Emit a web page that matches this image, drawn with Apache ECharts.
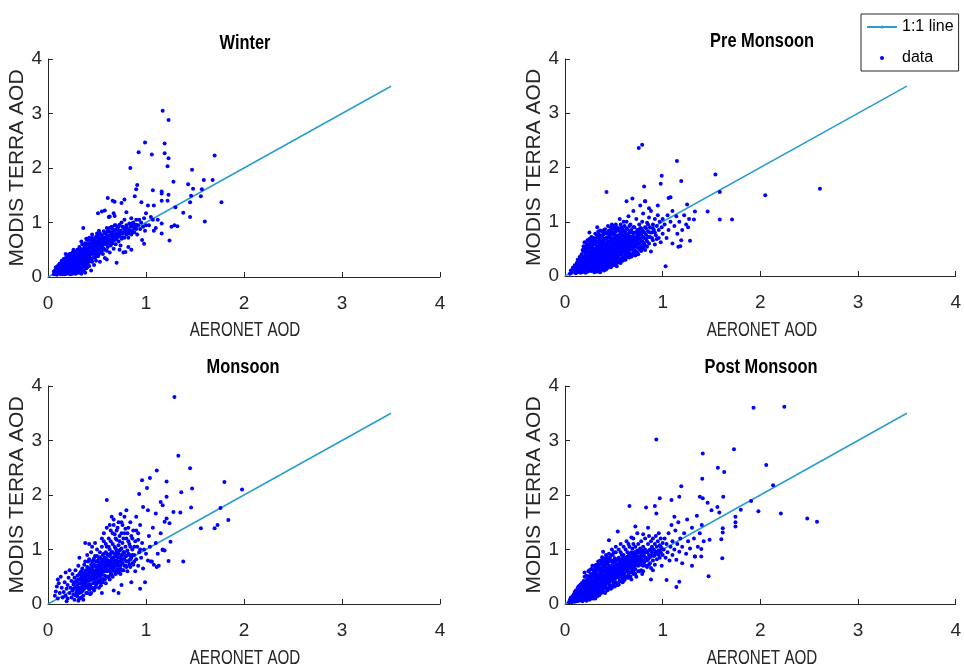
<!DOCTYPE html>
<html>
<head>
<meta charset="utf-8">
<script src="https://cdn.jsdelivr.net/npm/echarts@6/dist/echarts.min.js"></script>
<style>
html,body{margin:0;padding:0;background:#fff;}
#chart{width:964px;height:671px;}
</style>
</head>
<body>
<div id="chart"></div>
<script>
// ---- data ----
var seasons = ['Winter', 'Pre Monsoon', 'Monsoon', 'Post Monsoon'];
var xAxisLabel = 'AERONET AOD';
var yAxisLabel = 'MODIS TERRA AOD';
var axisTicks = [0, 1, 2, 3, 4];
var oneToOne = [[0, 0], [3.5, 3.5]];

var winterOuter = [
[0.06,0.05],[0.07,0.12],[0.08,0.08],[0.09,0.15],[0.1,0.06],[0.1,0.2],[0.08,0.18],[0.06,0.1],
[0.11,0.1],[0.12,0.16],[0.12,0.25],[0.13,0.05],[0.13,0.12],[0.14,0.2],[0.14,0.3],[0.15,0.08],[0.15,0.15],[0.11,0.22],[0.12,0.07],[0.14,0.11],
[0.16,0.12],[0.16,0.22],[0.17,0.05],[0.17,0.18],[0.17,0.3],[0.18,0.1],[0.18,0.25],[0.18,0.35],[0.19,0.15],[0.19,0.2],[0.2,0.08],[0.2,0.28],[0.2,0.4],[0.16,0.33],[0.19,0.06],[0.2,0.17],
[0.21,0.12],[0.21,0.22],[0.21,0.33],[0.22,0.06],[0.22,0.18],[0.22,0.27],[0.22,0.42],[0.23,0.1],[0.23,0.15],[0.23,0.24],[0.23,0.36],[0.24,0.2],[0.24,0.3],[0.24,0.08],[0.25,0.14],[0.25,0.26],[0.25,0.38],[0.25,0.45],
[0.26,0.1],[0.26,0.2],[0.26,0.32],[0.27,0.16],[0.27,0.24],[0.27,0.4],[0.28,0.06],[0.28,0.28],[0.28,0.35],[0.29,0.12],[0.29,0.22],[0.29,0.44],[0.3,0.18],[0.3,0.3],[0.3,0.38],[0.3,0.5],[0.27,0.47],[0.28,0.14],
[0.31,0.1],[0.31,0.25],[0.31,0.42],[0.32,0.2],[0.32,0.33],[0.32,0.55],[0.33,0.15],[0.33,0.28],[0.33,0.46],[0.34,0.06],[0.34,0.22],[0.34,0.38],[0.35,0.3],[0.35,0.5],[0.35,0.6],[0.32,0.08],[0.34,0.65],
[0.36,0.12],[0.36,0.26],[0.36,0.42],[0.37,0.2],[0.37,0.35],[0.37,0.55],[0.38,0.3],[0.38,0.47],[0.38,0.62],[0.39,0.16],[0.39,0.4],[0.39,0.7],[0.4,0.25],[0.4,0.52],[0.4,0.36],[0.38,0.08],
[0.41,0.3],[0.41,0.45],[0.41,0.6],[0.42,0.2],[0.42,0.38],[0.42,0.72],[0.43,0.5],[0.43,0.33],[0.44,0.42],[0.44,0.62],[0.44,0.12],[0.45,0.55],[0.45,0.28],[0.45,0.78],
[0.46,0.35],[0.46,0.48],[0.47,0.6],[0.47,0.22],[0.48,0.42],[0.48,0.7],[0.49,0.55],[0.49,0.3],[0.5,0.48],[0.5,0.65],[0.5,0.8],
[0.51,0.38],[0.51,0.58],[0.52,0.7],[0.52,0.5],[0.53,0.28],[0.53,0.62],[0.54,0.45],[0.54,0.78],[0.55,0.55],[0.55,0.68],[0.52,0.85],[0.55,1.2],
[0.56,0.42],[0.56,0.62],[0.57,0.72],[0.57,0.52],[0.58,0.35],[0.58,0.8],[0.59,0.6],[0.59,0.68],[0.6,0.48],[0.6,0.75],[0.6,0.9],
[0.61,0.55],[0.61,0.7],[0.62,0.62],[0.62,0.85],[0.63,0.45],[0.63,0.76],[0.64,0.58],[0.64,0.68],[0.65,0.8],[0.65,0.92],[0.62,1.1],
[0.66,0.62],[0.66,0.74],[0.67,0.52],[0.67,0.85],[0.68,0.68],[0.68,0.95],[0.69,0.6],[0.69,0.78],[0.7,0.7],[0.7,0.88],[0.68,1.12],
[0.71,0.8],[0.72,0.65],[0.72,0.92],[0.73,0.75],[0.74,0.58],[0.74,0.85],[0.75,0.7],[0.75,1.0],[0.76,0.8],[0.77,0.9],[0.78,0.72],[0.78,1.05],[0.79,0.85],[0.8,0.78],[0.8,0.95],[0.73,0.5],[0.77,0.45],
[0.81,0.88],[0.82,0.72],[0.83,0.98],[0.84,0.85],[0.85,0.78],[0.86,0.92],[0.87,1.0],[0.88,0.82],[0.89,0.95],[0.9,0.88],[0.82,0.55],[0.85,1.08],[0.9,1.05],
[0.91,0.78],[0.92,0.95],[0.93,1.05],[0.94,0.88],[0.95,1.0],[0.96,0.68],[0.97,0.92],[0.98,1.08],[0.99,0.85],[1.0,0.95],
[1.03,0.95],[1.05,1.1],[1.1,0.9],[1.12,1.05],[1.08,0.85],
[1.17,3.05],[1.23,2.88],[0.99,2.47],[1.19,2.45],[0.925,2.29],[1.06,2.25],[1.19,2.27],[1.23,2.18],[1.70,2.23],[1.22,2.03],[0.84,2.0],[1.47,1.97],
[0.91,1.69],[0.9,1.61],[1.07,1.59],[1.16,1.57],[1.16,1.53],[1.28,1.75],[1.23,1.51],[1.43,1.7],[1.48,1.62],[1.59,1.78],[1.68,1.78],[1.57,1.61],
[1.56,1.48],[1.77,1.37],[1.46,1.49],[1.45,1.37],[1.16,1.40],[1.22,1.40],[1.08,1.31],[1.30,1.28],[1.38,1.18],[1.45,1.10],[1.60,1.02],[1.24,0.67],
[1.32,0.93],[1.29,0.95],[1.26,0.92],[1.16,0.98],[1.16,0.80],[1.07,1.05],[1.02,1.31],[1.0,1.17],[0.953,1.37],[0.885,1.48],[0.78,1.42],[0.75,1.36],
[0.61,1.45],[0.66,1.40],[0.68,1.38],[0.80,1.19],[0.67,1.17],[0.58,1.22],[0.51,1.17],[0.63,1.11],[0.36,0.90],[0.98,0.61],[0.85,0.50],[0.79,0.46],[0.70,0.26],[0.60,0.32]
];
var winterCore = [
[0.09,0.04],[0.11,0.14],[0.12,0.19],[0.13,0.09],[0.13,0.22],[0.14,0.16],[0.15,0.05],[0.15,0.24],[0.16,0.09],[0.16,0.27],[0.17,0.15],[0.17,0.24],[0.18,0.14],[0.18,0.2],[0.18,0.42],[0.19,0.1],[0.19,0.31],[0.2,0.13],[0.2,0.23],[0.2,0.34],
[0.21,0.07],[0.21,0.17],[0.21,0.28],[0.21,0.38],[0.22,0.13],[0.22,0.22],[0.22,0.32],[0.23,0.05],[0.23,0.2],[0.23,0.29],[0.23,0.42],[0.24,0.12],[0.24,0.25],[0.24,0.35],[0.25,0.06],[0.25,0.19],[0.25,0.31],
[0.26,0.15],[0.26,0.25],[0.26,0.38],[0.26,0.5],[0.27,0.11],[0.27,0.2],[0.27,0.33],[0.28,0.18],[0.28,0.23],[0.28,0.42],[0.29,0.07],[0.29,0.17],[0.29,0.3],[0.29,0.37],[0.3,0.12],[0.3,0.24],[0.3,0.43],
[0.31,0.18],[0.31,0.32],[0.31,0.5],[0.32,0.14],[0.32,0.26],[0.32,0.4],[0.33,0.22],[0.33,0.34],[0.33,0.52],[0.34,0.17],[0.34,0.3],[0.34,0.44],[0.35,0.12],[0.35,0.24],[0.35,0.37],
[0.36,0.19],[0.36,0.32],[0.36,0.5],[0.37,0.1],[0.37,0.27],[0.37,0.44],[0.38,0.22],[0.38,0.38],[0.38,0.55],[0.39,0.3],[0.39,0.48],[0.4,0.18],[0.4,0.43],[0.4,0.6],
[0.41,0.38],[0.41,0.52],[0.42,0.28],[0.42,0.48],[0.42,0.62],[0.43,0.42],[0.43,0.58],[0.44,0.34],[0.44,0.5],[0.45,0.46],[0.45,0.65],[0.46,0.42],[0.46,0.58],[0.47,0.5],[0.47,0.68],[0.48,0.36],[0.48,0.58],[0.49,0.46],[0.49,0.64],[0.5,0.56],[0.5,0.4],
[0.51,0.5],[0.51,0.66],[0.52,0.42],[0.52,0.6],[0.53,0.52],[0.53,0.7],[0.54,0.58],[0.55,0.48],[0.55,0.62],[0.56,0.52],[0.56,0.72],[0.57,0.6],[0.58,0.66],[0.58,0.5],[0.59,0.72],[0.6,0.62],
[0.61,0.76],[0.62,0.68],[0.63,0.62],[0.64,0.75],[0.65,0.66],[0.66,0.8],[0.67,0.7],[0.68,0.76],[0.69,0.7],[0.7,0.8],[0.72,0.75],[0.74,0.8],[0.76,0.72],[0.78,0.82],[0.8,0.86],[0.82,0.8],[0.84,0.92],[0.86,0.84],[0.88,0.9],[0.9,0.96]
];
var winterFill = [
[0.4,0.68],[0.42,0.55],[0.43,0.68],[0.44,0.56],[0.45,0.72],[0.46,0.64],[0.47,0.55],[0.48,0.66],[0.49,0.74],[0.5,0.6],[0.51,0.75],[0.52,0.66],[0.53,0.8],[0.54,0.68],[0.55,0.76],[0.56,0.66],[0.57,0.84],[0.58,0.72],[0.59,0.8],[0.6,0.68],
[0.61,0.84],[0.62,0.76],[0.63,0.9],[0.64,0.82],[0.65,0.74],[0.66,0.88],[0.67,0.78],[0.68,0.86],[0.69,0.95],[0.7,0.76],[0.71,0.9],[0.72,0.84],[0.73,0.96],[0.75,0.82],[0.76,0.92],[0.78,0.88],[0.8,0.9],[0.83,0.86],[0.86,0.98],
[0.07,0.07],[0.1,0.16],[0.13,0.18],[0.15,0.19],[0.17,0.1],[0.19,0.24],[0.21,0.26],[0.23,0.33],[0.25,0.23],[0.27,0.29],[0.29,0.26],[0.31,0.36],[0.33,0.4],[0.35,0.44],[0.37,0.48],[0.39,0.54]
];

var preMonsoonOuter = [
[0.05,0.04],[0.06,0.1],[0.07,0.06],[0.08,0.15],[0.09,0.09],[0.1,0.2],[0.1,0.12],
[0.11,0.05],[0.11,0.16],[0.12,0.1],[0.12,0.24],[0.13,0.14],[0.13,0.3],[0.14,0.08],[0.14,0.2],[0.15,0.12],[0.15,0.27],[0.15,0.35],
[0.16,0.06],[0.16,0.18],[0.16,0.3],[0.17,0.12],[0.17,0.24],[0.17,0.4],[0.18,0.08],[0.18,0.2],[0.18,0.33],[0.19,0.14],[0.19,0.27],[0.19,0.45],[0.2,0.1],[0.2,0.22],[0.2,0.36],[0.2,0.52],
[0.21,0.06],[0.21,0.16],[0.21,0.28],[0.21,0.42],[0.22,0.11],[0.22,0.22],[0.22,0.34],[0.22,0.6],[0.23,0.08],[0.23,0.18],[0.23,0.3],[0.23,0.46],[0.24,0.13],[0.24,0.25],[0.24,0.38],[0.24,0.52],[0.25,0.1],[0.25,0.2],[0.25,0.32],[0.25,0.44],[0.25,0.8],
[0.26,0.14],[0.26,0.26],[0.26,0.36],[0.26,0.56],[0.27,0.09],[0.27,0.2],[0.27,0.3],[0.27,0.42],[0.28,0.16],[0.28,0.24],[0.28,0.34],[0.28,0.48],[0.28,0.66],[0.29,0.12],[0.29,0.28],[0.29,0.4],[0.3,0.18],[0.3,0.22],[0.3,0.32],[0.3,0.45],[0.3,0.58],
[0.31,0.1],[0.31,0.24],[0.31,0.36],[0.31,0.5],[0.32,0.15],[0.32,0.28],[0.32,0.42],[0.32,0.62],[0.33,0.2],[0.33,0.33],[0.33,0.46],[0.33,0.75],[0.34,0.12],[0.34,0.26],[0.34,0.38],[0.34,0.54],[0.35,0.18],[0.35,0.3],[0.35,0.42],[0.35,0.66],[0.33,0.9],
[0.36,0.22],[0.36,0.35],[0.36,0.48],[0.36,0.6],[0.37,0.14],[0.37,0.28],[0.37,0.4],[0.37,0.55],[0.38,0.2],[0.38,0.32],[0.38,0.45],[0.38,0.72],[0.39,0.26],[0.39,0.38],[0.39,0.5],[0.39,0.64],[0.4,0.16],[0.4,0.3],[0.4,0.42],[0.4,0.58],[0.4,0.85],
[0.41,0.24],[0.41,0.36],[0.41,0.5],[0.41,0.68],[0.42,0.2],[0.42,0.32],[0.42,0.45],[0.42,0.6],[0.43,0.28],[0.43,0.4],[0.43,0.55],[0.43,0.78],[0.44,0.22],[0.44,0.34],[0.44,0.48],[0.44,0.64],[0.45,0.3],[0.45,0.42],[0.45,0.56],[0.45,0.72],
[0.46,0.26],[0.46,0.38],[0.46,0.5],[0.46,0.62],[0.47,0.33],[0.47,0.45],[0.47,0.58],[0.47,0.9],[0.48,0.22],[0.48,0.4],[0.48,0.52],[0.48,0.68],[0.49,0.3],[0.49,0.44],[0.49,0.6],[0.49,0.8],[0.5,0.36],[0.5,0.48],[0.5,0.55],[0.5,0.7],
[0.51,0.28],[0.51,0.42],[0.51,0.6],[0.51,0.76],[0.52,0.35],[0.52,0.5],[0.52,0.66],[0.52,0.95],[0.53,0.3],[0.53,0.45],[0.53,0.58],[0.53,0.72],[0.54,0.38],[0.54,0.52],[0.54,0.64],[0.54,0.84],[0.55,0.25],[0.55,0.44],[0.55,0.6],[0.55,0.75],
[0.56,0.4],[0.56,0.54],[0.56,0.68],[0.56,1.05],[0.57,0.32],[0.57,0.48],[0.57,0.62],[0.57,0.8],[0.58,0.42],[0.58,0.56],[0.58,0.7],[0.58,0.9],[0.59,0.36],[0.59,0.5],[0.59,0.64],[0.6,0.45],[0.6,0.58],[0.6,0.74],[0.6,1.0],[0.6,0.3],
[0.61,0.52],[0.61,0.66],[0.61,0.82],[0.62,0.4],[0.62,0.6],[0.62,0.72],[0.63,0.48],[0.63,0.56],[0.63,0.88],[0.64,0.35],[0.64,0.62],[0.64,0.76],[0.65,0.5],[0.65,0.68],[0.65,1.1],
[0.66,0.42],[0.66,0.58],[0.66,0.8],[0.67,0.64],[0.67,0.72],[0.67,0.95],[0.68,0.5],[0.68,0.62],[0.68,0.85],[0.69,0.38],[0.69,0.7],[0.7,0.55],[0.7,0.66],[0.7,0.78],[0.7,1.2],
[0.71,0.48],[0.71,0.62],[0.71,0.9],[0.72,0.7],[0.72,0.58],[0.72,0.45],[0.73,0.8],[0.73,0.65],[0.73,1.05],[0.74,0.52],[0.74,0.74],[0.75,0.6],[0.75,0.85],[0.75,0.4],
[0.76,0.7],[0.76,0.95],[0.77,0.55],[0.77,0.78],[0.78,0.64],[0.78,0.88],[0.79,0.5],[0.79,0.72],[0.8,0.82],[0.8,0.62],[0.8,1.15],[0.77,1.3],[0.79,1.0],
[0.81,0.7],[0.82,0.56],[0.82,0.9],[0.83,0.76],[0.84,0.64],[0.84,0.98],[0.85,0.82],[0.86,0.6],[0.86,1.08],[0.87,0.72],[0.87,0.9],[0.88,0.45],[0.88,1.2],[0.89,0.8],[0.9,0.66],[0.9,0.95],[0.82,1.38],[0.86,1.25],
[0.91,0.85],[0.92,1.05],[0.92,0.58],[0.93,0.75],[0.94,0.92],[0.95,1.12],[0.96,0.7],[0.96,0.85],[0.97,1.0],[0.98,0.62],[0.99,0.9],[1.0,1.05],[1.0,0.78],[0.95,1.3],
[1.02,0.95],[1.04,0.7],[1.05,1.12],[1.06,0.85],[1.08,1.0],[1.1,0.6],[1.12,0.92],[1.14,1.1],[1.15,0.78],[1.17,1.0],[1.2,0.85],[1.22,1.12],[1.24,0.95],[1.1,1.2],[1.18,0.55],[1.27,1.05],
[0.755,2.36],[0.79,2.42],[1.146,2.12],[1.54,1.87],[0.99,1.85],[1.19,1.75],[0.98,1.7],[0.81,1.65],[0.425,1.55],[1.585,1.55],[1.08,1.45],[1.06,1.44],
[0.63,1.38],[0.69,1.43],[0.82,1.38],[1.25,1.32],[1.33,1.19],[1.46,1.19],[1.585,1.04],[1.71,1.04],[1.32,1.04],[1.26,0.9],[1.28,0.65],[1.03,0.18],
[1.19,0.66],[1.16,0.54],[2.61,1.61],[2.05,1.49]
];
var preMonsoonCore = [
[0.12,0.18],[0.13,0.07],[0.14,0.25],[0.15,0.16],[0.16,0.11],[0.16,0.24],[0.17,0.08],[0.17,0.19],[0.17,0.32],[0.18,0.14],[0.18,0.26],[0.19,0.08],[0.19,0.2],[0.19,0.35],[0.2,0.16],[0.2,0.3],
[0.21,0.1],[0.21,0.22],[0.21,0.35],[0.22,0.16],[0.22,0.28],[0.22,0.42],[0.23,0.13],[0.23,0.24],[0.23,0.38],[0.24,0.1],[0.24,0.19],[0.24,0.31],[0.24,0.44],[0.25,0.15],[0.25,0.26],[0.25,0.38],
[0.26,0.1],[0.26,0.2],[0.26,0.31],[0.26,0.45],[0.27,0.14],[0.27,0.25],[0.27,0.36],[0.27,0.5],[0.28,0.11],[0.28,0.2],[0.28,0.29],[0.28,0.4],[0.29,0.17],[0.29,0.23],[0.29,0.34],[0.29,0.5],[0.3,0.13],[0.3,0.27],[0.3,0.4],
[0.31,0.18],[0.31,0.3],[0.31,0.42],[0.31,0.6],[0.32,0.22],[0.32,0.35],[0.32,0.5],[0.33,0.14],[0.33,0.26],[0.33,0.4],[0.33,0.55],[0.34,0.2],[0.34,0.32],[0.34,0.46],[0.35,0.24],[0.35,0.36],[0.35,0.5],
[0.36,0.16],[0.36,0.28],[0.36,0.42],[0.36,0.54],[0.37,0.22],[0.37,0.34],[0.37,0.47],[0.37,0.65],[0.38,0.26],[0.38,0.38],[0.38,0.58],[0.39,0.2],[0.39,0.32],[0.39,0.44],[0.39,0.56],[0.4,0.24],[0.4,0.36],[0.4,0.5],[0.4,0.68],
[0.41,0.3],[0.41,0.42],[0.41,0.58],[0.42,0.26],[0.42,0.38],[0.42,0.52],[0.42,0.7],[0.43,0.34],[0.43,0.46],[0.43,0.62],[0.44,0.28],[0.44,0.4],[0.44,0.54],[0.45,0.24],[0.45,0.36],[0.45,0.5],[0.45,0.64],
[0.46,0.32],[0.46,0.44],[0.46,0.56],[0.46,0.72],[0.47,0.28],[0.47,0.4],[0.47,0.52],[0.47,0.66],[0.48,0.34],[0.48,0.46],[0.48,0.6],[0.49,0.38],[0.49,0.5],[0.49,0.68],[0.5,0.3],[0.5,0.42],[0.5,0.62],
[0.51,0.36],[0.51,0.5],[0.51,0.68],[0.52,0.44],[0.52,0.58],[0.52,0.74],[0.53,0.38],[0.53,0.52],[0.53,0.65],[0.54,0.32],[0.54,0.46],[0.54,0.58],[0.54,0.72],[0.55,0.38],[0.55,0.52],[0.55,0.68],
[0.56,0.46],[0.56,0.6],[0.56,0.76],[0.57,0.4],[0.57,0.55],[0.57,0.7],[0.58,0.48],[0.58,0.63],[0.58,0.78],[0.59,0.44],[0.59,0.57],[0.59,0.72],[0.6,0.52],[0.6,0.66],[0.6,0.82],
[0.61,0.45],[0.61,0.6],[0.61,0.74],[0.62,0.5],[0.62,0.66],[0.62,0.8],[0.63,0.42],[0.63,0.63],[0.63,0.76],[0.64,0.54],[0.64,0.7],[0.64,0.86],[0.65,0.45],[0.65,0.6],[0.65,0.76],
[0.66,0.5],[0.66,0.66],[0.66,0.72],[0.67,0.56],[0.67,0.82],[0.68,0.56],[0.68,0.72],[0.69,0.6],[0.69,0.8],[0.69,0.48],[0.7,0.6],[0.7,0.72],[0.7,0.9],
[0.71,0.55],[0.71,0.7],[0.72,0.64],[0.72,0.8],[0.73,0.58],[0.73,0.72],[0.74,0.62],[0.74,0.85],[0.75,0.68],[0.75,0.76],[0.76,0.6],[0.76,0.8],[0.77,0.68],[0.77,0.88],[0.78,0.56],[0.78,0.76],[0.79,0.64],[0.79,0.84],[0.8,0.72],
[0.81,0.8],[0.81,0.6],[0.83,0.68],[0.83,0.88],[0.85,0.72],[0.85,0.95],[0.87,0.8],[0.89,0.7],[0.9,0.88],[0.92,0.8],[0.94,0.68]
];
var preMonsoonFill = [
[0.18,0.48],[0.19,0.55],[0.2,0.62],[0.21,0.5],[0.22,0.55],[0.23,0.66],[0.24,0.58],[0.25,0.52],[0.25,0.68],[0.26,0.62],[0.27,0.58],[0.27,0.72],[0.28,0.55],[0.29,0.62],[0.29,0.7],[0.3,0.66],
[0.31,0.68],[0.31,0.78],[0.32,0.7],[0.33,0.62],[0.34,0.72],[0.34,0.82],[0.35,0.6],[0.35,0.76],[0.36,0.68],[0.36,0.84],[0.37,0.74],[0.38,0.66],[0.38,0.82],[0.39,0.76],[0.4,0.78],
[0.41,0.86],[0.42,0.8],[0.43,0.7],[0.44,0.78],[0.44,0.92],[0.45,0.84],[0.46,0.78],[0.47,0.84],[0.48,0.76],[0.48,0.95],[0.49,0.88],[0.5,0.8],[0.5,0.92],
[0.51,0.86],[0.52,0.82],[0.53,0.9],[0.55,0.88],[0.56,0.84],[0.57,0.95],[0.59,0.86],[0.61,0.92],[0.63,1.0],[0.66,0.92],
[0.3,0.07],[0.33,0.08],[0.35,0.1],[0.36,0.07],[0.38,0.12],[0.4,0.1],[0.41,0.14],[0.42,0.12],[0.43,0.18],[0.44,0.15],[0.45,0.18],[0.46,0.2],[0.47,0.16],[0.48,0.28],[0.49,0.22],[0.5,0.2],
[0.51,0.24],[0.52,0.22],[0.53,0.18],[0.54,0.26],[0.55,0.3],[0.56,0.28],[0.57,0.24],[0.58,0.3],[0.59,0.28],[0.6,0.36],[0.61,0.32],[0.62,0.3],[0.63,0.35],[0.64,0.42],[0.65,0.38],
[0.66,0.34],[0.67,0.4],[0.68,0.36],[0.7,0.42],[0.72,0.38],[0.74,0.44],[0.76,0.5],[0.78,0.46],[0.8,0.52],[0.82,0.48],[0.84,0.54]
];

var monsoonOuter = [
[0.07,0.15],[0.08,0.23],[0.09,0.32],[0.1,0.45],[0.1,0.1],[0.12,0.2],[0.13,0.5],[0.14,0.3],[0.15,0.12],[0.11,0.38],
[0.16,0.22],[0.17,0.4],[0.18,0.15],[0.18,0.58],[0.19,0.28],[0.2,0.1],[0.2,0.35],[0.21,0.48],[0.22,0.2],[0.22,0.62],[0.23,0.3],[0.24,0.42],[0.24,0.12],[0.25,0.25],[0.25,0.55],[0.19,0.05],
[0.26,0.18],[0.26,0.36],[0.27,0.48],[0.27,0.08],[0.28,0.3],[0.28,0.62],[0.29,0.22],[0.29,0.42],[0.3,0.14],[0.3,0.52],[0.3,0.35],[0.31,0.06],[0.31,0.28],[0.31,0.7],[0.32,0.45],[0.32,0.2],[0.33,0.38],[0.33,0.58],[0.34,0.12],[0.34,0.3],[0.34,0.5],[0.35,0.42],[0.35,0.65],[0.35,0.24],[0.32,0.85],
[0.36,0.36],[0.36,0.55],[0.36,0.15],[0.37,0.46],[0.37,0.72],[0.37,0.28],[0.38,0.4],[0.38,0.6],[0.38,1.12],[0.39,0.2],[0.39,0.52],[0.39,0.34],[0.4,0.45],[0.4,0.68],[0.4,0.9],[0.41,0.3],[0.41,0.56],[0.41,0.78],[0.42,0.42],[0.42,0.62],[0.42,1.1],[0.43,0.18],[0.43,0.5],[0.43,0.35],[0.44,0.58],[0.44,0.72],[0.44,0.95],[0.45,0.45],[0.45,0.3],[0.45,0.66],[0.45,1.05],
[0.46,0.52],[0.46,0.8],[0.46,0.38],[0.47,0.6],[0.47,0.25],[0.47,0.72],[0.48,0.46],[0.48,0.88],[0.48,1.12],[0.49,0.55],[0.49,0.68],[0.49,0.35],[0.5,0.62],[0.5,0.78],[0.5,0.48],[0.5,1.0],[0.51,0.42],[0.51,0.7],[0.51,0.58],[0.52,0.85],[0.52,0.3],[0.52,0.64],[0.53,0.5],[0.53,0.76],[0.53,0.95],[0.54,0.6],[0.54,0.68],[0.54,0.4],[0.55,0.82],[0.55,0.55],[0.55,1.05],[0.55,0.2],
[0.56,0.7],[0.56,0.9],[0.56,0.46],[0.57,0.62],[0.57,0.78],[0.57,1.15],[0.58,0.52],[0.58,0.85],[0.58,0.68],[0.59,0.95],[0.59,0.38],[0.59,0.74],[0.6,0.6],[0.6,0.82],[0.6,1.05],[0.61,0.5],[0.61,0.7],[0.61,0.9],[0.62,0.78],[0.62,1.2],[0.62,0.62],[0.63,0.45],[0.63,0.88],[0.63,1.0],[0.64,0.66],[0.64,0.8],[0.64,1.35],[0.65,0.55],[0.65,0.95],[0.65,0.72],[0.65,1.6],
[0.66,0.85],[0.66,1.1],[0.66,0.62],[0.67,0.75],[0.67,1.45],[0.67,0.25],[0.68,0.68],[0.68,0.92],[0.68,1.28],[0.69,0.8],[0.69,1.02],[0.69,0.55],[0.7,0.72],[0.7,1.18],[0.7,0.88],[0.71,0.64],[0.71,0.95],[0.71,1.4],[0.72,0.78],[0.72,1.08],[0.72,0.2],[0.73,0.85],[0.73,0.6],[0.73,1.25],[0.74,0.7],[0.74,1.0],[0.75,0.9],[0.75,1.5],[0.75,0.35],[0.74,1.65],
[0.76,0.75],[0.76,1.12],[0.77,0.62],[0.77,0.95],[0.78,0.82],[0.78,1.3],[0.78,1.6],[0.79,0.7],[0.79,1.05],[0.8,0.88],[0.8,1.2],[0.8,1.72],[0.81,0.6],[0.81,0.98],[0.82,0.78],[0.82,1.4],[0.83,0.9],[0.83,1.1],[0.84,0.68],[0.84,1.5],[0.85,0.85],[0.85,1.25],[0.85,0.4],
[0.86,1.0],[0.87,0.72],[0.87,1.35],[0.88,0.9],[0.89,1.15],[0.89,0.6],[0.9,1.6],[0.9,0.82],[0.91,1.05],[0.92,0.7],[0.92,1.3],[0.93,0.95],[0.94,1.45],[0.94,0.28],[0.95,0.85],[0.96,1.12],[0.97,0.65],[0.98,1.0],[0.99,0.4],[1.0,0.92],
[1.02,0.8],[1.03,1.25],[1.04,1.05],[1.05,0.78],[1.07,1.4],[1.08,0.72],[1.1,1.12],[1.12,0.92],[1.13,0.7],[1.15,1.3],[1.17,1.0],[1.19,0.98],
[1.29,3.80],[1.33,2.72],[1.45,2.49],[1.11,2.45],[0.96,2.27],[1.04,2.31],[1.21,2.25],[1.01,2.13],[1.47,2.12],[1.80,2.24],[1.98,2.10],[1.36,2.05],
[1.21,1.97],[0.93,2.02],[0.60,1.91],[1.46,1.77],[1.76,1.76],[1.84,1.54],[1.73,1.45],[1.70,1.39],[1.56,1.39],[1.35,1.68],[1.28,1.69],[1.15,1.87],
[1.17,1.81],[1.10,1.66],[0.97,1.78],[1.02,1.72],[1.21,1.57],[1.24,1.48],[1.19,1.51],[1.25,1.14],[1.17,0.99],[1.23,0.79],[1.38,0.78],[1.06,0.78],[1.11,0.68]
];
var monsoonCore = [
[0.26,0.28],[0.27,0.4],[0.28,0.16],[0.29,0.32],[0.3,0.25],[0.3,0.44],[0.31,0.38],[0.32,0.3],[0.32,0.55],[0.33,0.25],[0.33,0.46],[0.34,0.38],[0.34,0.6],[0.35,0.32],[0.35,0.52],
[0.36,0.45],[0.36,0.26],[0.37,0.38],[0.37,0.58],[0.38,0.5],[0.38,0.3],[0.38,0.78],[0.39,0.42],[0.39,0.62],[0.4,0.55],[0.4,0.35],[0.41,0.46],[0.41,0.66],[0.42,0.52],[0.42,0.36],[0.42,0.82],[0.43,0.6],[0.43,0.44],[0.44,0.5],[0.44,0.66],[0.44,0.3],[0.45,0.56],[0.45,0.78],
[0.46,0.62],[0.46,0.46],[0.46,0.7],[0.47,0.52],[0.47,0.84],[0.48,0.58],[0.48,0.7],[0.48,0.4],[0.49,0.62],[0.49,0.78],[0.5,0.55],[0.5,0.7],[0.5,0.88],[0.51,0.62],[0.51,0.8],[0.52,0.54],[0.52,0.72],[0.53,0.66],[0.53,0.86],[0.53,0.44],[0.54,0.76],[0.54,0.52],[0.55,0.66],[0.55,0.72],
[0.56,0.6],[0.56,0.8],[0.57,0.7],[0.57,0.92],[0.58,0.6],[0.58,0.76],[0.59,0.66],[0.59,0.84],[0.6,0.72],[0.6,0.92],[0.61,0.62],[0.61,0.8],[0.62,0.7],[0.62,0.9],[0.63,0.76],[0.63,0.6],[0.64,0.72],[0.64,0.92],[0.65,0.82],[0.65,0.64],
[0.66,0.75],[0.66,0.95],[0.67,0.68],[0.67,0.86],[0.68,0.78],[0.68,1.05],[0.69,0.72],[0.69,0.92],[0.7,0.8],[0.7,0.98],[0.71,0.75],[0.71,0.86],[0.72,0.7],[0.72,0.92],[0.73,0.78],[0.73,0.98],[0.74,0.86],[0.74,0.64],[0.75,0.8],[0.75,1.02],
[0.76,0.9],[0.77,0.82],[0.78,0.95],[0.79,0.88],[0.8,0.78],[0.82,0.92],[0.84,0.82],[0.86,0.9]
];
var monsoonFill = [
[0.55,1.2],[0.57,1.3],[0.59,1.1],[0.6,1.4],[0.62,1.05],[0.63,1.45],[0.64,1.15],[0.66,1.3],[0.67,1.55],[0.69,1.2],[0.7,1.35],[0.72,1.5],[0.73,1.15],[0.75,1.3],[0.76,1.45],[0.77,1.2],[0.79,1.38],
[0.81,1.3],[0.82,1.15],[0.84,1.05],[0.86,1.2],[0.88,1.05],[0.9,1.35],[0.92,1.18],[0.94,1.0],
[0.3,0.2],[0.32,0.1],[0.34,0.22],[0.36,0.08],[0.4,0.2],[0.42,0.26],[0.44,0.2],[0.46,0.28],[0.48,0.3],[0.5,0.38],[0.52,0.4],[0.54,0.34],[0.56,0.4],[0.58,0.45],[0.6,0.5],
[0.62,0.5],[0.64,0.54],[0.66,0.5],[0.68,0.6],[0.7,0.62],[0.72,0.58],[0.74,0.55],[0.76,0.62],[0.78,0.7],[0.8,0.68],[0.83,0.72],[0.86,0.75],[0.88,0.78]
];

var postMonsoonOuter = [
[0.04,0.03],[0.05,0.08],[0.06,0.05],[0.06,0.12],[0.07,0.03],[0.07,0.09],[0.08,0.14],[0.08,0.06],[0.09,0.1],[0.09,0.18],[0.1,0.04],[0.1,0.13],[0.1,0.22],
[0.11,0.08],[0.11,0.17],[0.12,0.05],[0.12,0.12],[0.12,0.24],[0.13,0.1],[0.13,0.19],[0.13,0.3],[0.14,0.06],[0.14,0.15],[0.14,0.26],[0.15,0.11],[0.15,0.2],[0.15,0.34],
[0.16,0.07],[0.16,0.16],[0.16,0.28],[0.17,0.12],[0.17,0.22],[0.17,0.38],[0.18,0.05],[0.18,0.18],[0.18,0.3],[0.19,0.1],[0.19,0.24],[0.19,0.42],[0.2,0.14],[0.2,0.28],[0.2,0.36],[0.2,0.5],
[0.21,0.08],[0.21,0.2],[0.21,0.32],[0.22,0.15],[0.22,0.26],[0.22,0.44],[0.23,0.1],[0.23,0.22],[0.23,0.36],[0.24,0.18],[0.24,0.3],[0.24,0.5],[0.25,0.12],[0.25,0.25],[0.25,0.4],[0.25,0.62],
[0.26,0.2],[0.26,0.33],[0.26,0.46],[0.27,0.15],[0.27,0.28],[0.27,0.4],[0.28,0.22],[0.28,0.35],[0.28,0.55],[0.29,0.1],[0.29,0.3],[0.29,0.44],[0.3,0.18],[0.3,0.26],[0.3,0.38],[0.3,0.5],[0.3,0.7],
[0.31,0.22],[0.31,0.34],[0.31,0.46],[0.32,0.15],[0.32,0.3],[0.32,0.42],[0.32,0.6],[0.33,0.25],[0.33,0.38],[0.33,0.52],[0.34,0.2],[0.34,0.33],[0.34,0.46],[0.34,0.68],[0.35,0.28],[0.35,0.4],[0.35,0.55],
[0.36,0.22],[0.36,0.35],[0.36,0.48],[0.36,0.62],[0.37,0.3],[0.37,0.42],[0.37,0.56],[0.38,0.25],[0.38,0.38],[0.38,0.5],[0.38,0.75],[0.39,0.32],[0.39,0.45],[0.39,0.6],[0.4,0.28],[0.4,0.4],[0.4,0.52],[0.4,0.66],[0.39,0.96],
[0.41,0.35],[0.41,0.48],[0.41,0.6],[0.42,0.3],[0.42,0.42],[0.42,0.56],[0.42,0.8],[0.43,0.38],[0.43,0.5],[0.43,0.64],[0.44,0.26],[0.44,0.45],[0.44,0.58],[0.44,0.72],[0.45,0.4],[0.45,0.52],[0.45,0.66],[0.45,1.17],
[0.46,0.35],[0.46,0.48],[0.46,0.6],[0.46,0.85],[0.47,0.42],[0.47,0.55],[0.47,0.7],[0.48,0.3],[0.48,0.5],[0.48,0.64],[0.48,0.78],[0.49,0.44],[0.49,0.58],[0.49,0.9],[0.5,0.38],[0.5,0.52],[0.5,0.66],[0.5,0.8],
[0.51,0.46],[0.51,0.6],[0.51,0.74],[0.52,0.4],[0.52,0.55],[0.52,0.68],[0.52,0.95],[0.53,0.5],[0.53,0.62],[0.53,0.8],[0.54,0.35],[0.54,0.58],[0.54,0.72],[0.54,1.33],[0.55,0.48],[0.55,0.65],[0.55,0.85],
[0.56,0.55],[0.56,0.7],[0.56,0.42],[0.57,0.62],[0.57,0.78],[0.57,0.95],[0.58,0.5],[0.58,0.66],[0.58,0.82],[0.59,0.58],[0.59,0.74],[0.59,0.4],[0.6,0.62],[0.6,0.78],[0.6,0.9],[0.6,0.5],
[0.61,0.68],[0.61,0.84],[0.61,0.55],[0.62,0.6],[0.62,0.75],[0.62,1.0],[0.63,0.48],[0.63,0.7],[0.63,0.86],[0.64,0.62],[0.64,0.78],[0.64,0.95],[0.65,0.55],[0.65,0.72],[0.65,0.88],[0.65,1.1],
[0.66,0.66],[0.66,0.8],[0.67,0.58],[0.67,0.74],[0.67,0.92],[0.68,0.7],[0.68,0.85],[0.68,0.45],[0.69,0.62],[0.69,0.78],[0.69,1.02],[0.7,0.68],[0.7,0.9],[0.7,0.55],[0.7,1.2],
[0.71,0.76],[0.71,0.95],[0.72,0.64],[0.72,0.82],[0.72,1.05],[0.73,0.72],[0.73,0.88],[0.73,0.5],[0.74,0.8],[0.74,0.98],[0.74,1.3],[0.75,0.7],[0.75,0.86],[0.75,1.1],[0.72,1.42],
[0.76,0.78],[0.76,0.95],[0.76,0.6],[0.77,0.84],[0.77,1.02],[0.78,0.72],[0.78,0.9],[0.78,1.15],[0.79,0.8],[0.79,0.98],[0.79,0.55],[0.8,0.88],[0.8,1.05],[0.8,0.7],[0.8,1.28],
[0.81,0.92],[0.81,0.76],[0.82,1.0],[0.82,1.2],[0.83,0.85],[0.84,0.95],[0.84,0.68],[0.85,1.1],[0.85,0.82],[0.86,0.9],[0.86,1.25],[0.87,1.0],[0.87,0.75],[0.88,1.15],[0.88,0.88],[0.89,0.95],[0.89,1.05],[0.9,0.8],[0.9,1.2],[0.85,1.4],[0.9,0.62],
[0.91,1.0],[0.91,0.88],[0.92,1.1],[0.92,0.72],[0.93,0.95],[0.93,1.25],[0.94,1.05],[0.94,0.82],[0.95,1.15],[0.95,0.92],[0.96,0.98],[0.96,1.3],[0.97,0.85],[0.97,1.08],[0.98,1.2],[0.98,0.95],[0.99,1.02],[0.99,0.7],[1.0,1.12],[1.0,0.9],[0.88,0.45],
[1.01,1.0],[1.02,1.2],[1.03,0.85],[1.04,1.1],[1.04,0.44],[1.05,0.95],[1.06,1.3],[1.07,0.8],[1.08,1.05],[1.09,1.45],[1.1,0.9],[1.1,1.15],[1.12,1.0],[1.13,1.35],[1.14,0.81],[1.14,0.31],[1.15,1.1],[1.16,1.5],[1.17,0.96],[1.17,0.41],[1.18,1.2],[1.2,1.05],[1.2,0.75],[1.12,1.6],
[1.22,1.3],[1.24,0.92],[1.25,1.55],[1.26,1.15],[1.28,1.02],[1.3,1.4],[1.3,0.7],[1.32,1.2],[1.33,0.87],[1.35,1.62],[1.36,1.05],[1.38,1.3],[1.4,1.45],[1.395,1.01],[1.395,0.87],[1.42,1.15],
[1.93,3.60],[2.245,3.62],[0.935,3.02],[1.41,2.76],[1.73,2.84],[1.565,2.50],[1.63,2.42],[2.06,2.55],[1.405,2.30],[1.19,2.16],[2.13,2.18],[0.97,1.94],
[1.09,1.91],[1.17,1.97],[1.38,1.97],[1.41,1.94],[1.62,1.97],[1.46,1.86],[1.56,1.78],[1.50,1.72],[1.58,1.68],[1.905,1.89],[1.98,1.70],[1.80,1.73],
[1.745,1.60],[1.745,1.50],[1.745,1.42],[2.21,1.66],[2.48,1.57],[2.58,1.51],[0.66,1.80],[0.83,1.77],[0.92,1.80],[0.935,1.66],[1.615,1.31],[1.60,1.19],
[1.615,1.39],[1.48,1.18],[1.61,0.84],[1.47,0.51],[1.33,0.87]
];
var postMonsoonCore = [
[0.08,0.1],[0.09,0.05],[0.1,0.08],[0.11,0.12],[0.11,0.25],[0.12,0.09],[0.12,0.18],[0.13,0.14],[0.13,0.23],[0.14,0.1],[0.14,0.19],[0.14,0.32],[0.15,0.07],[0.15,0.15],[0.15,0.26],
[0.16,0.12],[0.16,0.2],[0.16,0.35],[0.17,0.08],[0.17,0.17],[0.17,0.28],[0.18,0.13],[0.18,0.24],[0.18,0.36],[0.19,0.16],[0.19,0.3],[0.2,0.09],[0.2,0.2],[0.2,0.32],
[0.21,0.14],[0.21,0.25],[0.21,0.4],[0.22,0.1],[0.22,0.2],[0.22,0.32],[0.23,0.16],[0.23,0.28],[0.23,0.44],[0.24,0.13],[0.24,0.23],[0.24,0.38],[0.25,0.18],[0.25,0.3],[0.25,0.48],
[0.26,0.14],[0.26,0.26],[0.26,0.38],[0.27,0.2],[0.27,0.34],[0.27,0.5],[0.28,0.16],[0.28,0.28],[0.28,0.42],[0.29,0.22],[0.29,0.36],[0.29,0.54],[0.3,0.3],[0.3,0.44],
[0.31,0.16],[0.31,0.28],[0.31,0.4],[0.31,0.56],[0.32,0.24],[0.32,0.36],[0.32,0.5],[0.33,0.3],[0.33,0.44],[0.33,0.62],[0.34,0.26],[0.34,0.4],[0.34,0.54],[0.35,0.22],[0.35,0.34],[0.35,0.48],[0.35,0.64],
[0.36,0.28],[0.36,0.42],[0.36,0.55],[0.37,0.36],[0.37,0.5],[0.37,0.66],[0.38,0.32],[0.38,0.44],[0.38,0.6],[0.39,0.38],[0.39,0.52],[0.39,0.7],[0.4,0.34],[0.4,0.46],[0.4,0.6],
[0.41,0.42],[0.41,0.55],[0.41,0.7],[0.42,0.36],[0.42,0.5],[0.42,0.64],[0.43,0.44],[0.43,0.58],[0.43,0.75],[0.44,0.38],[0.44,0.52],[0.44,0.66],[0.45,0.46],[0.45,0.6],[0.45,0.78],
[0.46,0.42],[0.46,0.54],[0.46,0.7],[0.47,0.48],[0.47,0.62],[0.47,0.8],[0.48,0.44],[0.48,0.56],[0.48,0.7],[0.49,0.5],[0.49,0.64],[0.49,0.76],[0.5,0.46],[0.5,0.58],[0.5,0.72],
[0.51,0.52],[0.51,0.66],[0.51,0.84],[0.52,0.48],[0.52,0.62],[0.52,0.78],[0.53,0.56],[0.53,0.7],[0.54,0.5],[0.54,0.64],[0.54,0.82],[0.55,0.56],[0.55,0.72],
[0.56,0.62],[0.56,0.78],[0.57,0.54],[0.57,0.7],[0.58,0.58],[0.58,0.74],[0.58,0.9],[0.59,0.66],[0.59,0.82],[0.6,0.56],[0.6,0.7],[0.6,0.84],
[0.61,0.62],[0.61,0.76],[0.62,0.68],[0.62,0.84],[0.63,0.6],[0.63,0.78],[0.64,0.7],[0.64,0.86],[0.65,0.64],[0.65,0.8],[0.66,0.72],[0.66,0.9],[0.67,0.66],[0.67,0.84],[0.68,0.78],[0.68,0.95],[0.69,0.7],[0.69,0.86],[0.7,0.76],[0.7,0.84],
[0.71,0.7],[0.71,0.86],[0.72,0.76],[0.72,0.92],[0.73,0.8],[0.73,0.96],[0.74,0.72],[0.74,0.88],[0.75,0.8],[0.75,0.95],[0.76,0.86],[0.77,0.76],[0.77,0.94],[0.78,0.82],[0.79,0.9],[0.8,0.8],[0.8,0.96],
[0.82,0.86],[0.83,0.95],[0.84,0.8],[0.86,0.98],[0.87,0.86],[0.89,0.9],[0.9,1.0],[0.92,0.9],[0.94,0.96],[0.96,0.9],[0.98,1.05]
];
var postMonsoonFill = [
[0.2,0.58],[0.22,0.52],[0.24,0.6],[0.26,0.55],[0.27,0.64],[0.28,0.7],[0.29,0.62],[0.3,0.58],[0.31,0.66],[0.32,0.72],[0.33,0.68],[0.34,0.78],[0.35,0.72],[0.36,0.8],[0.37,0.74],[0.38,0.86],[0.39,0.8],[0.4,0.76],
[0.41,0.84],[0.42,0.9],[0.43,0.86],[0.44,0.82],[0.45,0.92],[0.47,0.9],[0.48,1.0],[0.5,0.95],[0.52,1.05],[0.55,1.0],[0.57,1.1],[0.6,1.05],[0.63,1.15],[0.66,1.05],[0.68,1.22],[0.7,1.1],
[0.22,0.06],[0.25,0.08],[0.27,0.1],[0.29,0.16],[0.31,0.1],[0.33,0.14],[0.35,0.16],[0.37,0.2],[0.39,0.22],[0.41,0.2],[0.43,0.25],[0.45,0.3],[0.47,0.28],[0.49,0.34],[0.51,0.32],[0.53,0.38],
[0.55,0.36],[0.57,0.42],[0.59,0.46],[0.61,0.44],[0.63,0.5],[0.65,0.48],[0.67,0.5],[0.7,0.6],[0.72,0.55],[0.75,0.6],[0.78,0.62],[0.8,0.6],[0.83,0.7],[0.86,0.72],[0.88,0.66]
];

var panelData = [
  winterOuter.concat(winterCore, winterFill),
  preMonsoonOuter.concat(preMonsoonCore, preMonsoonFill),
  monsoonOuter.concat(monsoonCore, monsoonFill),
  postMonsoonOuter.concat(postMonsoonCore, postMonsoonFill)
];

// ---- layout ----
var FONT = "'Liberation Sans', Arial, sans-serif";
var AXC = '#262626';
var grids = [
  {left: 48, top: 59, width: 392, height: 218},
  {left: 565, top: 59, width: 392, height: 217},
  {left: 48, top: 386, width: 392, height: 218},
  {left: 565, top: 386, width: 392, height: 218}
];
var titleCenters = [[245, 43], [762, 41], [243, 367], [761, 367]];
var xNameCenters = [[245, 330], [762, 330], [245, 658], [762, 658]];

var graphics = [];
seasons.forEach(function (s, i) {
  graphics.push({
    type: 'text', x: titleCenters[i][0], y: titleCenters[i][1], scaleX: 0.82, silent: true,
    style: {text: s, fontFamily: FONT, fontWeight: 'bold', fontSize: 20, fill: '#000', align: 'center', verticalAlign: 'middle'}
  });
  graphics.push({
    type: 'text', x: xNameCenters[i][0], y: xNameCenters[i][1], scaleX: 0.76, silent: true,
    style: {text: xAxisLabel, fontFamily: FONT, fontSize: 20, fill: AXC, align: 'center', verticalAlign: 'middle'}
  });
});

var chart = echarts.init(document.getElementById('chart'), null, {renderer: 'canvas'});

var option = {
  backgroundColor: '#fff',
  animation: false,
  graphic: graphics,
  legend: {
    left: 861, top: 14, orient: 'vertical',
    borderColor: AXC, borderWidth: 1, padding: [3, 5, 3, 5],
    itemWidth: 30, itemHeight: 4, itemGap: 11,
    textStyle: {fontFamily: FONT, fontSize: 16, color: '#000', lineHeight: 20},
    data: [{name: '1:1 line'}, {name: 'data'}]
  },
  grid: grids,
  xAxis: grids.map(function (g, i) {
    return {
      gridIndex: i, type: 'value', min: axisTicks[0], max: axisTicks[axisTicks.length - 1], interval: 1,
      axisLine: {show: true, onZero: false, lineStyle: {color: AXC, width: 1}},
      axisTick: {show: true, inside: true, length: 5, lineStyle: {color: AXC}},
      axisLabel: {margin: 17, fontFamily: FONT, fontSize: 19, color: AXC},
      splitLine: {show: false}
    };
  }),
  yAxis: grids.map(function (g, i) {
    return {
      gridIndex: i, type: 'value', min: axisTicks[0], max: axisTicks[axisTicks.length - 1], interval: 1,
      name: yAxisLabel, nameLocation: 'middle', nameGap: 11,
      nameTextStyle: {fontFamily: FONT, fontSize: 21, color: AXC},
      axisLine: {show: true, onZero: false, lineStyle: {color: AXC, width: 1}},
      axisTick: {show: true, inside: true, length: 5, lineStyle: {color: AXC}},
      axisLabel: {margin: 6, fontFamily: FONT, fontSize: 19, color: AXC},
      splitLine: {show: false}
    };
  }),
  series: []
};

panelData.forEach(function (pts, i) {
  option.series.push({
    name: '1:1 line', type: 'line', xAxisIndex: i, yAxisIndex: i,
    data: oneToOne, showSymbol: false, symbol: 'none',
    lineStyle: {color: '#2a9dcf', width: 1.5}, itemStyle: {color: '#2a9dcf'},
    silent: true, z: 2
  });
  option.series.push({
    name: 'data', type: 'scatter', xAxisIndex: i, yAxisIndex: i,
    data: pts, symbol: 'circle', symbolSize: 4,
    itemStyle: {color: '#0000ff', opacity: 1}, silent: true, z: 3
  });
});

chart.setOption(option);
</script>
</body>
</html>
